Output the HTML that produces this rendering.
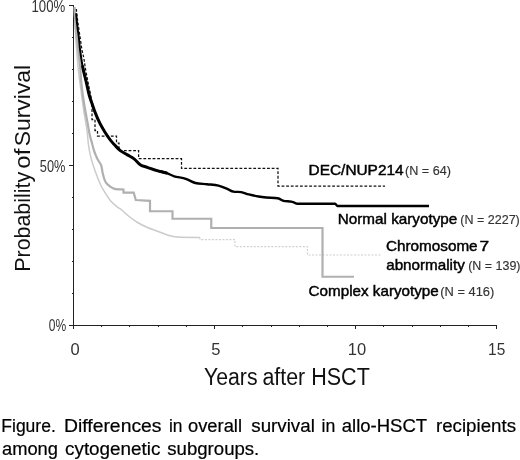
<!DOCTYPE html>
<html><head><meta charset="utf-8">
<style>
html,body{margin:0;padding:0;background:#fff;}
body{width:520px;height:460px;overflow:hidden;}
svg{display:block;}
.n{font-size:12.3px;fill:#333;stroke:#333;stroke-width:0.15px;}
text{font-family:"Liberation Sans",Arial,sans-serif;}
</style></head>
<body>
<svg width="520" height="460" viewBox="0 0 520 460">
<rect width="520" height="460" fill="#fff"/>
<!-- axes -->
<g stroke="#222" stroke-width="1" fill="none" shape-rendering="crispEdges">
<path d="M73.5 5.5V329M73 325.5H497"/>
<path d="M69 5.5H74M69 165.5H74M69 325.5H74"/>
<path d="M72 37.5H74M72 69.5H74M72 101.5H74M72 133.5H74M72 197.5H74M72 229.5H74M72 261.5H74M72 293.5H74"/>
<path d="M73.5 325V329M214.5 325V329M355.5 325V329M496.5 325V329"/>
<path d="M101.5 325V327M129.5 325V327M158.5 325V327M186.5 325V327M242.5 325V327M271.5 325V327M299.5 325V327M327.5 325V327M383.5 325V327M412.5 325V327M440.5 325V327M468.5 325V327"/>
</g>
<!-- light gray thin: chromosome 7 -->
<path fill="none" stroke="#cbcbcb" stroke-width="1.5" d="M74.50 7.00C74.58 10.00 74.67 18.17 75.00 25.00C75.33 31.83 76.03 41.50 76.50 48.00C76.97 54.50 77.30 58.67 77.80 64.00C78.30 69.33 78.97 75.67 79.50 80.00C80.03 84.33 80.57 86.80 81.00 90.00C81.43 93.20 81.57 95.30 82.10 99.20C82.63 103.10 83.38 108.22 84.20 113.40C85.02 118.58 86.28 125.03 87.00 130.30C87.72 135.57 87.90 140.67 88.50 145.00C89.10 149.33 89.77 152.77 90.60 156.30C91.43 159.83 92.43 162.92 93.50 166.20C94.57 169.48 95.72 172.70 97.00 176.00C98.28 179.30 99.67 182.93 101.20 186.00C102.73 189.07 104.55 191.82 106.20 194.40C107.85 196.98 109.22 199.38 111.10 201.50C112.98 203.62 115.73 205.68 117.50 207.10C119.27 208.52 119.83 208.47 121.70 210.00C123.58 211.53 126.12 214.17 128.75 216.25C131.38 218.33 134.38 220.62 137.50 222.50C140.62 224.38 144.17 226.04 147.50 227.50C150.83 228.96 154.17 230.00 157.50 231.25C160.83 232.50 164.17 234.04 167.50 235.00C170.83 235.96 172.08 236.58 177.50 237.00C182.92 237.42 196.25 237.42 200.00 237.50"/>
<path fill="none" stroke="#d0d0d0" stroke-width="1.2" stroke-dasharray="2 1.5" d="M200 237.5V239.6H235V246.7H307.5V255H381"/>
<!-- thick gray: complex -->
<path fill="none" stroke="#b0b0b0" stroke-width="2.2" stroke-linejoin="miter" d="M74.50 7.00C74.67 10.00 74.88 17.83 75.50 25.00C76.12 32.17 77.43 43.10 78.20 50.00C78.97 56.90 79.58 60.95 80.10 66.40C80.62 71.85 80.85 77.93 81.30 82.70C81.75 87.47 82.18 90.62 82.80 95.00C83.42 99.38 84.20 104.33 85.00 109.00C85.80 113.67 86.85 118.88 87.60 123.00C88.35 127.12 88.80 130.47 89.50 133.70C90.20 136.93 91.02 139.50 91.80 142.40C92.58 145.30 93.30 148.42 94.20 151.10C95.10 153.78 96.10 156.27 97.20 158.50C98.30 160.73 100.03 162.92 100.80 164.50C101.57 166.08 101.48 166.55 101.80 168.00C102.12 169.45 102.20 171.15 102.70 173.20C103.20 175.25 104.10 178.53 104.80 180.30C105.50 182.07 105.97 182.73 106.90 183.80C107.83 184.87 109.10 185.87 110.40 186.70C111.70 187.53 112.52 188.33 114.70 188.80C116.88 189.27 122.03 189.38 123.50 189.50V192.6H133.7L135.8 200L150 200.8V211.25H172.5V218.75H211.25V228H322.5V276.75H354"/>
<!-- dashed: DEC/NUP214 -->
<path fill="none" stroke="#111" stroke-width="1.25" stroke-dasharray="2.8 1.8" d="M76.30 9.00C76.47 10.50 76.90 14.83 77.30 18.00C77.70 21.17 78.17 24.33 78.70 28.00C79.23 31.67 79.95 36.33 80.50 40.00C81.05 43.67 81.45 47.00 82.00 50.00C82.55 53.00 83.30 55.33 83.80 58.00C84.30 60.67 84.47 62.83 85.00 66.00C85.53 69.17 86.33 73.50 87.00 77.00C87.67 80.50 88.33 83.67 89.00 87.00C89.67 90.33 90.50 94.00 91.00 97.00C91.50 100.00 91.83 102.42 92.00 105.00C92.17 107.58 92.00 111.25 92.00 112.50V119.6H95V130.6H97.5V136H116.5V143H119V150.5H138.6V158.7H181.5V168.4H278V186.1H385"/>
<!-- black: normal -->
<g fill="none" stroke="#000" stroke-linejoin="round" stroke-linecap="round">
<path stroke-width="2" d="M76.20 14.00C76.37 15.83 76.75 21.00 77.20 25.00C77.65 29.00 78.42 33.83 78.90 38.00C79.38 42.17 79.48 45.27 80.10 50.00C80.72 54.73 81.55 60.95 82.60 66.40C83.65 71.85 85.30 77.93 86.40 82.70"/>
<path stroke-width="3" d="M82.60 66.40C83.65 71.85 85.30 77.93 86.40 82.70C87.50 87.47 88.27 91.53 89.20 95.00C90.13 98.47 90.95 100.43 92.00 103.50C93.05 106.57 94.20 110.12 95.50 113.40C96.80 116.68 98.27 120.15 99.80 123.20C101.33 126.25 102.93 128.87 104.70 131.70C106.47 134.53 108.73 137.98 110.40 140.20C112.07 142.42 113.05 143.27 114.70 145.00C116.35 146.73 118.18 148.95 120.30 150.60C122.42 152.25 125.05 153.48 127.40 154.90C129.75 156.32 132.20 157.42 134.40 159.10C136.60 160.78 138.45 163.63 140.60 165.00C142.75 166.37 144.58 166.37 147.30 167.30C150.02 168.23 153.70 169.65 156.90 170.60C160.10 171.55 163.62 172.05 166.50 173.00"/>
<path stroke-width="2.4" stroke-linecap="butt" d="M156.90 170.60C160.10 171.55 163.62 172.05 166.50 173.00C169.38 173.95 170.98 175.33 174.20 176.30C177.42 177.27 182.27 177.68 185.80 178.80C189.33 179.92 191.87 182.10 195.40 183.00C198.93 183.90 203.15 183.77 207.00 184.20C210.85 184.63 215.05 184.77 218.50 185.60C221.95 186.43 225.20 188.18 227.70 189.20C230.20 190.22 231.25 191.22 233.50 191.70C235.75 192.18 238.65 191.65 241.20 192.10C243.75 192.55 245.92 193.67 248.80 194.40C251.68 195.13 255.60 195.98 258.50 196.50C261.40 197.02 263.00 197.20 266.20 197.50C269.40 197.80 274.82 197.75 277.70 198.30C280.58 198.85 281.25 200.23 283.50 200.80C285.75 201.37 288.95 201.22 291.20 201.70C293.45 202.18 296.03 203.37 297.00 203.70H335.3L337.3 206H429"/>
</g>
<!-- tick labels -->
<g fill="#333" font-size="16.5">
<text x="65.2" y="11.5" text-anchor="end" textLength="33.7" lengthAdjust="spacingAndGlyphs">100%</text>
<text x="65.4" y="171.6" text-anchor="end" textLength="25.6" lengthAdjust="spacingAndGlyphs">50%</text>
<text x="66.1" y="330.5" text-anchor="end" textLength="17.4" lengthAdjust="spacingAndGlyphs">0%</text>
<text x="75" y="354.5" text-anchor="middle">0</text>
<text x="215.8" y="354.5" text-anchor="middle">5</text>
<text x="357" y="354.5" text-anchor="middle">10</text>
<text x="496.7" y="354.5" text-anchor="middle" textLength="17.2" lengthAdjust="spacingAndGlyphs">15</text>
</g>
<!-- axis titles -->
<text y="384.8" font-size="23" fill="#111"><tspan x="204" textLength="53.5" lengthAdjust="spacingAndGlyphs">Years</tspan> <tspan x="262.4" textLength="42.8" lengthAdjust="spacingAndGlyphs">after</tspan> <tspan x="311.2" textLength="58.6" lengthAdjust="spacingAndGlyphs">HSCT</tspan></text>
<text transform="translate(29.8,271.5) rotate(-90)" font-size="22.6" fill="#111"><tspan x="-0.2" textLength="99.8" lengthAdjust="spacingAndGlyphs">Probability</tspan> <tspan x="102.8" textLength="20" lengthAdjust="spacingAndGlyphs">of</tspan> <tspan x="125.2" textLength="81.5" lengthAdjust="spacingAndGlyphs">Survival</tspan></text>
<!-- curve labels -->
<g fill="#000" font-size="15" stroke="#000" stroke-width="0.45">
<text y="175"><tspan x="308.6" textLength="95" lengthAdjust="spacingAndGlyphs">DEC/NUP214</tspan> <tspan class="n" x="405" textLength="46" lengthAdjust="spacingAndGlyphs">(N = 64)</tspan></text>
<text y="224.3"><tspan x="337.8" textLength="119.5" lengthAdjust="spacingAndGlyphs">Normal karyotype</tspan> <tspan class="n" x="460.3" textLength="59.5" lengthAdjust="spacingAndGlyphs">(N = 2227)</tspan></text>
<text y="251.3"><tspan x="386" textLength="91.6" lengthAdjust="spacingAndGlyphs">Chromosome</tspan> <tspan x="479.6" textLength="9.6" lengthAdjust="spacingAndGlyphs">7</tspan></text>
<text y="270"><tspan x="386.2" textLength="78.6" lengthAdjust="spacingAndGlyphs">abnormality</tspan> <tspan class="n" x="468.2" textLength="52.3" lengthAdjust="spacingAndGlyphs">(N = 139)</tspan></text>
<text y="295.7"><tspan x="308.6" textLength="130.2" lengthAdjust="spacingAndGlyphs">Complex karyotype</tspan> <tspan class="n" x="440.3" textLength="54" lengthAdjust="spacingAndGlyphs">(N = 416)</tspan></text>
</g>
<!-- caption -->
<g fill="#000" font-size="17.5" stroke="#000" stroke-width="0.2">
<text y="431.7"><tspan x="1.3" textLength="54.5" lengthAdjust="spacingAndGlyphs">Figure.</tspan> <tspan x="64" textLength="97.5" lengthAdjust="spacingAndGlyphs">Differences</tspan> <tspan x="169" textLength="13.5" lengthAdjust="spacingAndGlyphs">in</tspan> <tspan x="188" textLength="54" lengthAdjust="spacingAndGlyphs">overall</tspan> <tspan x="251.3" textLength="63.5" lengthAdjust="spacingAndGlyphs">survival</tspan> <tspan x="321.5" textLength="13.8" lengthAdjust="spacingAndGlyphs">in</tspan> <tspan x="341.8" textLength="85" lengthAdjust="spacingAndGlyphs">allo-HSCT</tspan> <tspan x="436" textLength="80" lengthAdjust="spacingAndGlyphs">recipients</tspan></text>
<text y="454.5"><tspan x="2" textLength="56" lengthAdjust="spacingAndGlyphs">among</tspan> <tspan x="65" textLength="95.5" lengthAdjust="spacingAndGlyphs">cytogenetic</tspan> <tspan x="167.3" textLength="92" lengthAdjust="spacingAndGlyphs">subgroups.</tspan></text>
</g>
</svg>
</body></html>
